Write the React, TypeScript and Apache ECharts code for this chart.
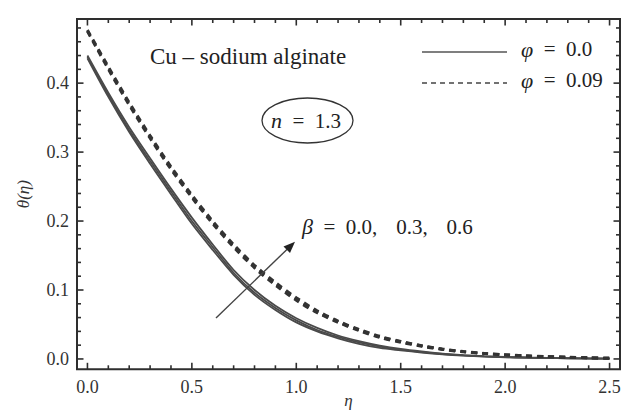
import React, { useEffect, useRef } from "react";
import * as echarts from "echarts";

const eta = [0, 0.1, 0.2, 0.3, 0.4, 0.5, 0.6, 0.7, 0.8, 0.9, 1.0, 1.1, 1.2, 1.3, 1.4, 1.5, 1.6, 1.7, 1.8, 1.9, 2.0, 2.1, 2.2, 2.3, 2.4, 2.5];

// phi = 0.0 (solid), beta = 0.0, 0.3, 0.6
const solidB00 = [0.436, 0.380, 0.329, 0.283, 0.239, 0.196, 0.158, 0.122, 0.093, 0.071, 0.053, 0.040, 0.030, 0.022, 0.016, 0.0125, 0.0093, 0.0067, 0.0048, 0.0035, 0.0025, 0.0018, 0.0013, 0.0009, 0.0006, 0.0004];
const solidB03 = [0.438, 0.383, 0.332, 0.287, 0.243, 0.200, 0.162, 0.125, 0.096, 0.074, 0.056, 0.042, 0.032, 0.024, 0.018, 0.0135, 0.0100, 0.0072, 0.0052, 0.0038, 0.0027, 0.0019, 0.0014, 0.0010, 0.0007, 0.0005];
const solidB06 = [0.440, 0.386, 0.336, 0.291, 0.247, 0.205, 0.166, 0.129, 0.100, 0.077, 0.059, 0.045, 0.034, 0.026, 0.0195, 0.0145, 0.0108, 0.0078, 0.0056, 0.0041, 0.0029, 0.0021, 0.0015, 0.0011, 0.0008, 0.0006];

// phi = 0.09 (dashed), beta = 0.0, 0.3, 0.6
const dashB00 = [0.475, 0.420, 0.368, 0.320, 0.275, 0.234, 0.196, 0.162, 0.132, 0.107, 0.085, 0.067, 0.053, 0.041, 0.031, 0.024, 0.0183, 0.0137, 0.0102, 0.0078, 0.0058, 0.0044, 0.0033, 0.0024, 0.0016, 0.0010];
const dashB03 = [0.476, 0.422, 0.370, 0.322, 0.277, 0.236, 0.198, 0.164, 0.134, 0.109, 0.087, 0.068, 0.054, 0.042, 0.032, 0.025, 0.0190, 0.0140, 0.0105, 0.0080, 0.0060, 0.0045, 0.0034, 0.0025, 0.0017, 0.0010];
const dashB06 = [0.477, 0.424, 0.372, 0.324, 0.279, 0.238, 0.200, 0.166, 0.136, 0.111, 0.089, 0.070, 0.055, 0.043, 0.033, 0.0255, 0.0195, 0.0145, 0.0108, 0.0082, 0.0062, 0.0046, 0.0035, 0.0026, 0.0018, 0.0011];

// tick values
const xMajor = [0, 0.5, 1.0, 1.5, 2.0, 2.5];
const xMinor = [0.1, 0.2, 0.3, 0.4, 0.6, 0.7, 0.8, 0.9, 1.1, 1.2, 1.3, 1.4, 1.6, 1.7, 1.8, 1.9, 2.1, 2.2, 2.3, 2.4];
const yMajor = [0, 0.1, 0.2, 0.3, 0.4];
const yMinor = [0.02, 0.04, 0.06, 0.08, 0.12, 0.14, 0.16, 0.18, 0.22, 0.24, 0.26, 0.28, 0.32, 0.34, 0.36, 0.38, 0.42, 0.44, 0.46, 0.48];

const SERIF = "'Liberation Serif', 'DejaVu Serif', serif";
const FRAME = "#2e2e2e";
const TXT = "#222";

function pairs(ys: number[]) {
  return eta.map((x, i) => [x, ys[i]]);
}

export default function App() {
  const ref = useRef<HTMLDivElement>(null);
  useEffect(() => {
    if (!ref.current) return;
    const chart = echarts.init(ref.current, undefined, { renderer: "svg" });

    const X_MIN = -0.05, X_MAX = 2.55, Y_MIN = -0.015, Y_MAX = 0.493;
    const labelStyle = { fontFamily: SERIF, fontSize: 18, color: "#333" };

    const solidStyle = { color: "#4a4a4a", width: 1.8, type: "solid" };
    const dashStyle = { color: "#333", width: 2.8, type: [6, 5] };
    const mkSeries = (name: string, ys: number[], style: any) => ({
      type: "line",
      name,
      data: pairs(ys),
      showSymbol: false,
      smooth: 0.3,
      lineStyle: style,
      z: 3,
    });

    chart.setOption({
      animation: false,
      grid: { left: 77, top: 19, width: 543, height: 350.3, outerBoundsMode: "none", containLabel: false },
      xAxis: {
        type: "value",
        min: X_MIN,
        max: X_MAX,
        axisLine: { show: false },
        axisTick: { show: false },
        axisLabel: { show: true, customValues: xMajor, ...labelStyle, margin: 9, formatter: (v: number) => v.toFixed(1) },
        splitLine: { show: false },
        name: "η",
        nameLocation: "middle",
        nameGap: 23,
        nameMoveOverlap: false,
        nameTextStyle: { fontFamily: SERIF, fontStyle: "italic", fontSize: 17, color: "#333" },
      },
      yAxis: {
        type: "value",
        min: Y_MIN,
        max: Y_MAX,
        axisLine: { show: false },
        axisTick: { show: false },
        axisLabel: { show: true, customValues: yMajor, ...labelStyle, margin: 8, formatter: (v: number) => v.toFixed(1) },
        splitLine: { show: false },
        name: "θ(η)",
        nameLocation: "middle",
        nameGap: 45,
        nameRotate: 90,
        nameMoveOverlap: false,
        nameTextStyle: { fontFamily: SERIF, fontStyle: "italic", fontSize: 17, color: "#333" },
      },
      series: [
        mkSeries("φ=0.0, β=0.0", solidB00, solidStyle),
        mkSeries("φ=0.0, β=0.3", solidB03, solidStyle),
        mkSeries("φ=0.0, β=0.6", solidB06, solidStyle),
        mkSeries("φ=0.09, β=0.0", dashB00, dashStyle),
        mkSeries("φ=0.09, β=0.3", dashB03, dashStyle),
        mkSeries("φ=0.09, β=0.6", dashB06, dashStyle),
      ],
    });

    // frame and ticks through the chart's own scales
    const toPx = (x: number, y: number) => chart.convertToPixel({ gridIndex: 0 }, [x, y]) as number[];
    const tickStyle = { stroke: FRAME, lineWidth: 1.6 };
    const ticks: any[] = [];
    const MAJ = 6.5, MIN = 4;
    const addX = (vals: number[], len: number) => {
      vals.forEach((v) => {
        const b = toPx(v, Y_MIN);
        const t = toPx(v, Y_MAX);
        ticks.push({ type: "line", z: 15, shape: { x1: b[0], y1: b[1], x2: b[0], y2: b[1] - len }, style: tickStyle });
        ticks.push({ type: "line", z: 15, shape: { x1: t[0], y1: t[1], x2: t[0], y2: t[1] + len }, style: tickStyle });
      });
    };
    const addY = (vals: number[], len: number) => {
      vals.forEach((v) => {
        const l = toPx(X_MIN, v);
        const r = toPx(X_MAX, v);
        ticks.push({ type: "line", z: 15, shape: { x1: l[0], y1: l[1], x2: l[0] + len, y2: l[1] }, style: tickStyle });
        ticks.push({ type: "line", z: 15, shape: { x1: r[0], y1: r[1], x2: r[0] - len, y2: r[1] }, style: tickStyle });
      });
    };
    addX(xMajor, MAJ);
    addX(xMinor, MIN);
    addY(yMajor, MAJ);
    addY(yMinor, MIN);
    const tl = toPx(X_MIN, Y_MAX);
    const br = toPx(X_MAX, Y_MIN);

    const EN = "\u2002";
    const richItalic = (size: number) => ({ i: { fontFamily: SERIF, fontStyle: "italic", fontSize: size, fill: TXT } });
    const txt = (x: number, y: number, text: string, size: number, rich?: boolean) => ({
      type: "text",
      x,
      y,
      z: 20,
      style: {
        text,
        fontFamily: SERIF,
        fontSize: size,
        fill: TXT,
        align: "left",
        verticalAlign: "middle",
        ...(rich ? { rich: richItalic(size + 1) } : {}),
      },
    });

    chart.setOption({
      graphic: [
        {
          type: "rect",
          z: 16,
          shape: { x: tl[0], y: tl[1], width: br[0] - tl[0], height: br[1] - tl[1] },
          style: { fill: "none", stroke: FRAME, lineWidth: 2 },
        },
        ...ticks,
        txt(150, 56.5, "Cu – sodium alginate", 23),
        { type: "line", z: 20, shape: { x1: 422, y1: 52, x2: 507, y2: 52 }, style: { stroke: "#555", lineWidth: 1.6 } },
        { type: "line", z: 20, shape: { x1: 422, y1: 83, x2: 507, y2: 83 }, style: { stroke: "#444", lineWidth: 1.4, lineDash: [5, 4] } },
        txt(521, 49, `{i|φ}${EN}=${EN}0.0`, 21, true),
        txt(521, 80, `{i|φ}${EN}=${EN}0.09`, 21, true),
        {
          type: "ellipse",
          z: 20,
          shape: { cx: 307.5, cy: 120.5, rx: 45.5, ry: 22.5 },
          style: { fill: "none", stroke: "#333", lineWidth: 1.3 },
        },
        txt(271, 120.5, `{i|n}${EN}=${EN}1.3`, 21, true),
        { type: "line", z: 20, shape: { x1: 216, y1: 318, x2: 289, y2: 247.5 }, style: { stroke: "#444", lineWidth: 1.4 } },
        {
          type: "polygon",
          z: 20,
          shape: { points: [[295, 241.7], [283.5, 246.5], [290, 253]] },
          style: { fill: "#222" },
        },
        txt(302, 226.5, `{i|β}${EN}=${EN}0.0,${EN}\u2009\u20090.3,${EN}\u2009\u20090.6`, 21, true),
      ],
    });
    return () => chart.dispose();
  }, []);
  return (
    <div
      ref={ref}
      style={{ position: "fixed", left: 0, top: 0, width: 625, height: 410, background: "#fff" }}
    />
  );
}
